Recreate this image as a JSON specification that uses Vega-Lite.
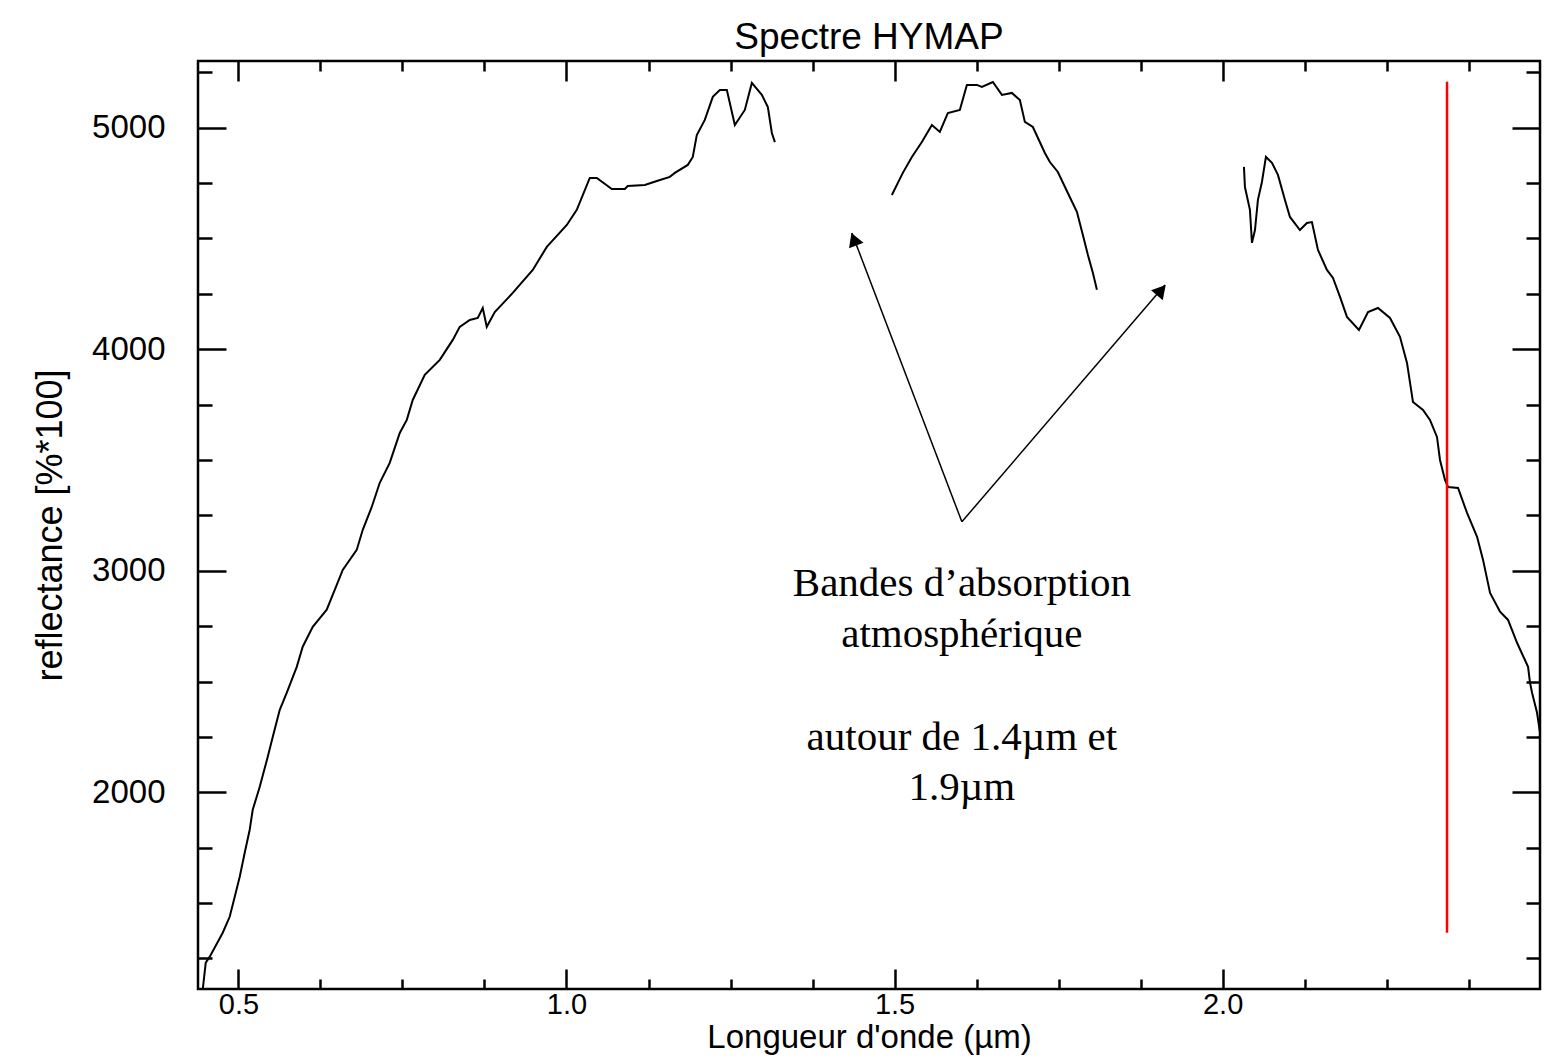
{
  "$schema": "https://vega.github.io/schema/vega-lite/v6.json",
  "width": 1342,
  "height": 928,
  "autosize": "none",
  "padding": {"left": 198, "top": 61, "right": 11, "bottom": 72},
  "background": "white",
  "view": {"stroke": "black", "strokeWidth": 2.5, "fill": "white"},
  "title": {"text": "Spectre HYMAP", "font": "Liberation Sans", "fontSize": 37, "fontWeight": "normal", "color": "black", "offset": 3},
  "config": {
    "axis": {"domain": false, "grid": false, "tickColor": "black", "tickWidth": 2.5, "labelColor": "black", "titleColor": "black", "labelFont": "Liberation Sans", "titleFont": "Liberation Sans", "labelFontSize": 33, "titleFontSize": 36, "titleFontWeight": "normal"}
  },
  "resolve": {"axis": {"x": "independent", "y": "independent"}},
  "datasets": {
    "curve": [
      {"seg": 1, "wl": 0.4456, "r": 1109}, {"seg": 1, "wl": 0.4502, "r": 1231}, {"seg": 1, "wl": 0.4563, "r": 1258},
      {"seg": 1, "wl": 0.4761, "r": 1366}, {"seg": 1, "wl": 0.4867, "r": 1438}, {"seg": 1, "wl": 0.4944, "r": 1528},
      {"seg": 1, "wl": 0.502, "r": 1619}, {"seg": 1, "wl": 0.5096, "r": 1727}, {"seg": 1, "wl": 0.5172, "r": 1831},
      {"seg": 1, "wl": 0.5218, "r": 1921}, {"seg": 1, "wl": 0.5325, "r": 2025}, {"seg": 1, "wl": 0.5447, "r": 2160},
      {"seg": 1, "wl": 0.5523, "r": 2250}, {"seg": 1, "wl": 0.563, "r": 2372}, {"seg": 1, "wl": 0.5736, "r": 2449},
      {"seg": 1, "wl": 0.5889, "r": 2566}, {"seg": 1, "wl": 0.598, "r": 2657}, {"seg": 1, "wl": 0.6133, "r": 2747},
      {"seg": 1, "wl": 0.6346, "r": 2824}, {"seg": 1, "wl": 0.6468, "r": 2914}, {"seg": 1, "wl": 0.659, "r": 3004},
      {"seg": 1, "wl": 0.6803, "r": 3094}, {"seg": 1, "wl": 0.6895, "r": 3185}, {"seg": 1, "wl": 0.7032, "r": 3288},
      {"seg": 1, "wl": 0.7154, "r": 3397}, {"seg": 1, "wl": 0.7306, "r": 3487}, {"seg": 1, "wl": 0.7459, "r": 3622},
      {"seg": 1, "wl": 0.7566, "r": 3681}, {"seg": 1, "wl": 0.7657, "r": 3771}, {"seg": 1, "wl": 0.784, "r": 3884},
      {"seg": 1, "wl": 0.8069, "r": 3952}, {"seg": 1, "wl": 0.8267, "r": 4042}, {"seg": 1, "wl": 0.8373, "r": 4101},
      {"seg": 1, "wl": 0.8526, "r": 4132}, {"seg": 1, "wl": 0.8648, "r": 4141}, {"seg": 1, "wl": 0.8724, "r": 4186},
      {"seg": 1, "wl": 0.8785, "r": 4101}, {"seg": 1, "wl": 0.8907, "r": 4168}, {"seg": 1, "wl": 0.9181, "r": 4254},
      {"seg": 1, "wl": 0.9486, "r": 4358}, {"seg": 1, "wl": 0.97, "r": 4462}, {"seg": 1, "wl": 1.0005, "r": 4561},
      {"seg": 1, "wl": 1.0157, "r": 4629}, {"seg": 1, "wl": 1.0355, "r": 4773}, {"seg": 1, "wl": 1.0462, "r": 4773},
      {"seg": 1, "wl": 1.0691, "r": 4723}, {"seg": 1, "wl": 1.0889, "r": 4723}, {"seg": 1, "wl": 1.0934, "r": 4737},
      {"seg": 1, "wl": 1.1194, "r": 4741}, {"seg": 1, "wl": 1.1377, "r": 4759}, {"seg": 1, "wl": 1.1575, "r": 4778},
      {"seg": 1, "wl": 1.1651, "r": 4796}, {"seg": 1, "wl": 1.1849, "r": 4832}, {"seg": 1, "wl": 1.1925, "r": 4868},
      {"seg": 1, "wl": 1.1986, "r": 4967}, {"seg": 1, "wl": 1.2108, "r": 5035}, {"seg": 1, "wl": 1.223, "r": 5139},
      {"seg": 1, "wl": 1.2337, "r": 5170}, {"seg": 1, "wl": 1.2444, "r": 5170}, {"seg": 1, "wl": 1.2566, "r": 5012},
      {"seg": 1, "wl": 1.2718, "r": 5080}, {"seg": 1, "wl": 1.2825, "r": 5202}, {"seg": 1, "wl": 1.2977, "r": 5148},
      {"seg": 1, "wl": 1.3069, "r": 5093}, {"seg": 1, "wl": 1.313, "r": 4976}, {"seg": 1, "wl": 1.3176, "r": 4935},
      {"seg": 2, "wl": 1.4959, "r": 4696}, {"seg": 2, "wl": 1.5126, "r": 4796}, {"seg": 2, "wl": 1.5264, "r": 4868},
      {"seg": 2, "wl": 1.5416, "r": 4935}, {"seg": 2, "wl": 1.5569, "r": 5012}, {"seg": 2, "wl": 1.569, "r": 4981},
      {"seg": 2, "wl": 1.5812, "r": 5066}, {"seg": 2, "wl": 1.5995, "r": 5080}, {"seg": 2, "wl": 1.6102, "r": 5193},
      {"seg": 2, "wl": 1.6255, "r": 5193}, {"seg": 2, "wl": 1.6331, "r": 5184}, {"seg": 2, "wl": 1.6498, "r": 5206},
      {"seg": 2, "wl": 1.6636, "r": 5148}, {"seg": 2, "wl": 1.6788, "r": 5157}, {"seg": 2, "wl": 1.691, "r": 5125},
      {"seg": 2, "wl": 1.6986, "r": 5026}, {"seg": 2, "wl": 1.7108, "r": 5003}, {"seg": 2, "wl": 1.7291, "r": 4886},
      {"seg": 2, "wl": 1.7367, "r": 4845}, {"seg": 2, "wl": 1.7489, "r": 4800}, {"seg": 2, "wl": 1.7641, "r": 4705},
      {"seg": 2, "wl": 1.7779, "r": 4620}, {"seg": 2, "wl": 1.787, "r": 4516}, {"seg": 2, "wl": 1.7946, "r": 4426},
      {"seg": 2, "wl": 1.8023, "r": 4344}, {"seg": 2, "wl": 1.8084, "r": 4268},
      {"seg": 3, "wl": 2.0325, "r": 4823}, {"seg": 3, "wl": 2.034, "r": 4732}, {"seg": 3, "wl": 2.0416, "r": 4629},
      {"seg": 3, "wl": 2.0447, "r": 4480}, {"seg": 3, "wl": 2.0493, "r": 4538}, {"seg": 3, "wl": 2.0538, "r": 4674},
      {"seg": 3, "wl": 2.0599, "r": 4755}, {"seg": 3, "wl": 2.066, "r": 4868}, {"seg": 3, "wl": 2.0752, "r": 4841},
      {"seg": 3, "wl": 2.0843, "r": 4787}, {"seg": 3, "wl": 2.095, "r": 4674}, {"seg": 3, "wl": 2.1026, "r": 4597},
      {"seg": 3, "wl": 2.1178, "r": 4538}, {"seg": 3, "wl": 2.1285, "r": 4570}, {"seg": 3, "wl": 2.1361, "r": 4574},
      {"seg": 3, "wl": 2.1453, "r": 4448}, {"seg": 3, "wl": 2.159, "r": 4358}, {"seg": 3, "wl": 2.1682, "r": 4322},
      {"seg": 3, "wl": 2.1789, "r": 4236}, {"seg": 3, "wl": 2.1895, "r": 4146}, {"seg": 3, "wl": 2.2078, "r": 4087},
      {"seg": 3, "wl": 2.2216, "r": 4168}, {"seg": 3, "wl": 2.2368, "r": 4186}, {"seg": 3, "wl": 2.2551, "r": 4141},
      {"seg": 3, "wl": 2.2703, "r": 4056}, {"seg": 3, "wl": 2.281, "r": 3938}, {"seg": 3, "wl": 2.2901, "r": 3762},
      {"seg": 3, "wl": 2.3054, "r": 3726}, {"seg": 3, "wl": 2.316, "r": 3681}, {"seg": 3, "wl": 2.3267, "r": 3604},
      {"seg": 3, "wl": 2.3313, "r": 3500}, {"seg": 3, "wl": 2.3389, "r": 3410}, {"seg": 3, "wl": 2.3435, "r": 3378},
      {"seg": 3, "wl": 2.3588, "r": 3374}, {"seg": 3, "wl": 2.3725, "r": 3261}, {"seg": 3, "wl": 2.3878, "r": 3153},
      {"seg": 3, "wl": 2.3969, "r": 3049}, {"seg": 3, "wl": 2.4076, "r": 2900}, {"seg": 3, "wl": 2.4228, "r": 2815},
      {"seg": 3, "wl": 2.435, "r": 2778}, {"seg": 3, "wl": 2.4487, "r": 2675}, {"seg": 3, "wl": 2.4655, "r": 2566},
      {"seg": 3, "wl": 2.4685, "r": 2494}, {"seg": 3, "wl": 2.4716, "r": 2449}, {"seg": 3, "wl": 2.4792, "r": 2359},
      {"seg": 3, "wl": 2.4837, "r": 2269}
    ],
    "marker": [{"wl": 2.342, "r": 1366, "r2": 5207}],
    "arrows": [
      {"wl": 1.6026, "r": 3221, "wl2": 1.4349, "r2": 4525},
      {"wl": 1.6026, "r": 3221, "wl2": 1.912, "r2": 4290}
    ],
    "heads": [
      {"wl": 1.4392, "r": 4487, "ang": 339},
      {"wl": 1.9043, "r": 4259, "ang": 41}
    ],
    "notes": [
      {"wl": 1.6026, "r": 2887, "t": "Bandes d’absorption"},
      {"wl": 1.6026, "r": 2657, "t": "atmosphérique"},
      {"wl": 1.6026, "r": 2192, "t": "autour de 1.4µm et"},
      {"wl": 1.6026, "r": 1966, "t": "1.9µm"}
    ]
  },
  "layer": [
    {
      "data": {"name": "curve"},
      "mark": {"type": "line", "color": "black", "strokeWidth": 2, "clip": true},
      "encoding": {
        "x": {"field": "wl", "type": "quantitative",
              "scale": {"domain": [0.4384, 2.4837], "nice": false, "zero": false},
              "axis": {"orient": "bottom", "values": [0.5, 1.0, 1.5, 2.0], "format": ".1f", "tickSize": -20, "labelPadding": 21, "labelFontSize": 29, "title": "Longueur d'onde (µm)", "titlePadding": 2, "titleFontSize": 33}},
        "y": {"field": "r", "type": "quantitative",
              "scale": {"domain": [1112, 5301], "nice": false, "zero": false},
              "axis": {"orient": "left", "values": [2000, 3000, 4000, 5000], "format": "d", "tickSize": -28, "labelPadding": 61, "title": "reflectance [%*100]", "titlePadding": 22}},
        "detail": {"field": "seg", "type": "nominal"}
      }
    },
    {
      "data": {"name": "marker"},
      "mark": {"type": "rule", "color": "#ff0000", "strokeWidth": 2.5},
      "encoding": {
        "x": {"field": "wl", "type": "quantitative",
              "scale": {"domain": [0.4384, 2.4837], "nice": false, "zero": false},
              "axis": {"orient": "bottom", "values": [0.625, 0.75, 0.875, 1.125, 1.25, 1.375, 1.625, 1.75, 1.875, 2.125, 2.25, 2.375], "tickSize": -10, "labels": false, "title": null}},
        "y": {"field": "r", "type": "quantitative",
              "scale": {"domain": [1112, 5301], "nice": false, "zero": false},
              "axis": {"orient": "left", "values": [1250, 1500, 1750, 2250, 2500, 2750, 3250, 3500, 3750, 4250, 4500, 4750, 5250], "tickSize": -14, "labels": false, "title": null}},
        "y2": {"field": "r2"}
      }
    },
    {
      "data": {"name": "arrows"},
      "mark": {"type": "rule", "color": "black", "strokeWidth": 1.5},
      "encoding": {
        "x": {"field": "wl", "type": "quantitative",
              "scale": {"domain": [0.4384, 2.4837], "nice": false, "zero": false},
              "axis": {"orient": "top", "values": [0.5, 1.0, 1.5, 2.0], "tickSize": -20, "labels": false, "title": null}},
        "y": {"field": "r", "type": "quantitative",
              "scale": {"domain": [1112, 5301], "nice": false, "zero": false},
              "axis": {"orient": "right", "values": [2000, 3000, 4000, 5000], "tickSize": -28, "labels": false, "title": null}},
        "x2": {"field": "wl2"},
        "y2": {"field": "r2"}
      }
    },
    {
      "data": {"name": "heads"},
      "mark": {"type": "point", "shape": "triangle", "filled": true, "color": "black", "size": 240, "opacity": 1},
      "encoding": {
        "x": {"field": "wl", "type": "quantitative",
              "scale": {"domain": [0.4384, 2.4837], "nice": false, "zero": false},
              "axis": {"orient": "top", "values": [0.625, 0.75, 0.875, 1.125, 1.25, 1.375, 1.625, 1.75, 1.875, 2.125, 2.25, 2.375], "tickSize": -10, "labels": false, "title": null}},
        "y": {"field": "r", "type": "quantitative",
              "scale": {"domain": [1112, 5301], "nice": false, "zero": false},
              "axis": {"orient": "right", "values": [1250, 1500, 1750, 2250, 2500, 2750, 3250, 3500, 3750, 4250, 4500, 4750, 5250], "tickSize": -14, "labels": false, "title": null}},
        "angle": {"field": "ang", "type": "quantitative", "scale": null}
      }
    },
    {
      "data": {"name": "notes"},
      "mark": {"type": "text", "font": "Liberation Serif", "fontSize": 41, "color": "black", "align": "center", "baseline": "alphabetic"},
      "encoding": {
        "x": {"field": "wl", "type": "quantitative", "scale": {"domain": [0.4384, 2.4837], "nice": false, "zero": false}, "axis": null},
        "y": {"field": "r", "type": "quantitative", "scale": {"domain": [1112, 5301], "nice": false, "zero": false}, "axis": null},
        "text": {"field": "t"}
      }
    }
  ]
}
